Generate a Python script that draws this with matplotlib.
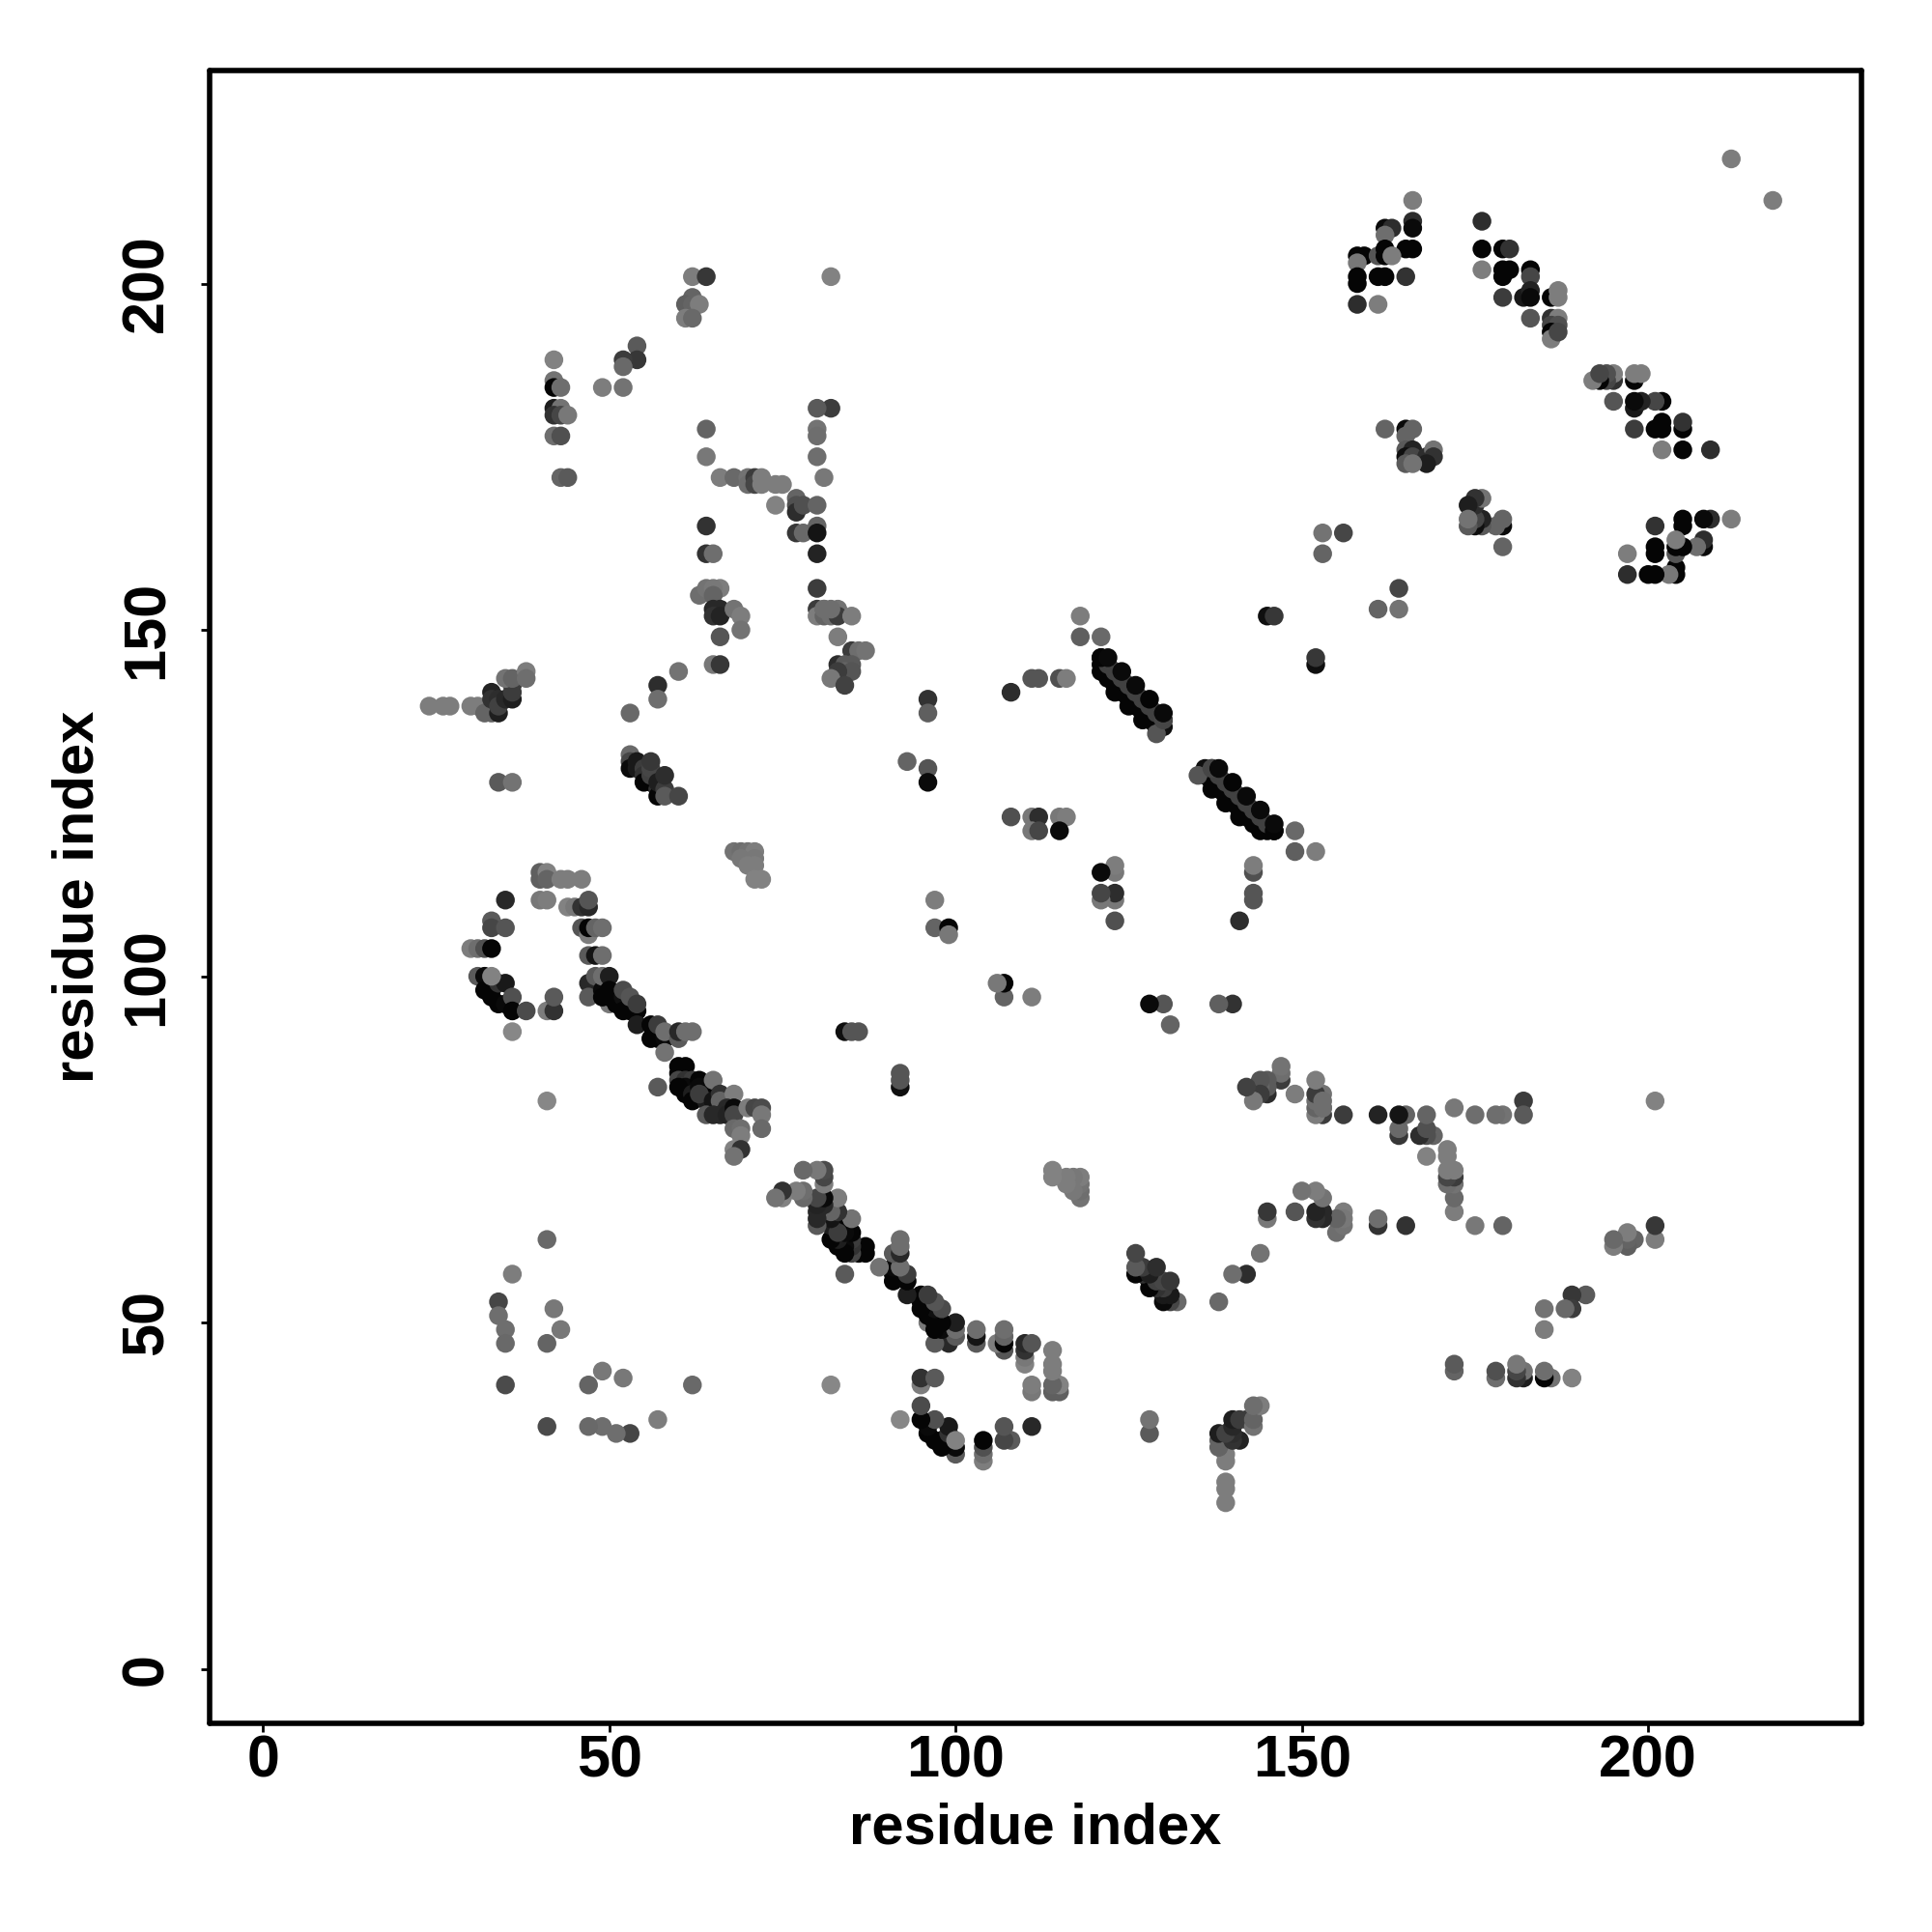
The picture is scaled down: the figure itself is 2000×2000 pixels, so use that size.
import matplotlib
matplotlib.use('Agg')
import matplotlib.pyplot as plt

# contacts with i < j, the map is symmetric so the other half is mirrored below
res_i = [
  35, 33, 33, 35, 30, 31, 32, 33, 31, 32, 32, 33, 33, 34, 35, 34, 35, 33, 36, 36, 38, 36, 41, 42, 42, 41,
  40, 40, 41, 41, 43, 44, 46, 40, 41, 44, 45, 46, 47, 47, 46, 47, 47, 48, 49, 47, 48, 49,
  47, 47, 50, 48, 49, 50, 49, 49, 50, 50, 51, 51, 50, 52, 52, 53, 54, 52, 53, 54, 54, 56, 56, 57, 57, 58, 58, 58, 60, 60, 61, 62,
  60, 61, 60, 60, 61, 62, 61, 60, 61, 62, 63, 63, 62, 64, 64, 63, 65, 65, 66, 66, 68, 67, 64, 65, 66, 67, 68, 68, 70, 71, 72, 72, 72, 68, 69, 69, 68, 69, 68, 57,
  68, 69, 70, 71, 71, 69, 70, 71, 71, 72,
  62, 64, 82, 62, 61, 62, 63, 61, 62, 54, 54, 52, 52, 49, 52,
  42, 42, 42, 43, 42, 43, 42, 43, 44, 42, 43, 43, 44,
  64, 64, 66, 68, 70, 70, 71, 71, 72, 72, 74, 75, 74, 77, 77, 77, 78, 80,
  77, 78, 80, 80, 80, 64, 64, 65, 66, 63, 64, 65, 65,
  65, 66, 65, 66, 68, 69, 69, 66, 65, 66,
  80, 82, 80, 80, 80, 81, 80, 81, 82, 83, 83, 81, 82, 85, 83,
  85, 86, 87, 83, 84, 85, 84, 85, 83, 82, 84, 60, 57, 57, 53,
  53, 53, 53, 54, 54, 55, 55, 55, 56, 56, 56, 56, 57, 57, 57, 58, 58, 58, 60,
  24, 26, 27, 30, 31, 32, 33, 34, 33, 33, 34, 34, 35, 36, 36, 36, 35, 36, 38, 38, 34, 36,
  41, 36, 34, 34, 35, 35, 42, 43, 41, 35,
  96, 96, 108, 111, 112, 115, 116, 93, 96, 96, 108, 111, 112, 115, 116, 111, 112, 115,
  118, 118, 121, 145, 146, 84, 85, 86, 97, 97, 99, 99,
  121, 121, 121, 122, 122, 123, 123, 124, 125, 125, 126, 126, 127, 127, 128, 128, 129, 129, 130, 130, 129,
  122, 123, 124, 125, 126, 127, 128, 129, 130,
  121, 122, 124, 126, 128, 130,
  166, 166, 166, 162, 163, 162, 165, 166, 158, 159, 158, 161, 162, 162, 163, 158, 158, 161, 162, 165, 158, 161,
  176, 176, 179, 180, 176, 179, 180, 179, 183, 183, 179, 182, 183, 183, 186, 187, 187, 183, 186, 187, 186, 187, 186, 186, 187,
  162, 165, 166, 165, 165, 166, 165, 166, 168, 169, 169, 168, 165, 166,
  153, 156, 153, 212,
  80, 80, 81,
]
res_j = [
  111, 108, 107, 107, 104, 104, 104, 104, 100, 100, 98, 98, 97, 96, 96, 99, 99, 100, 97, 95, 95, 92, 95, 95, 97, 82,
  115, 114, 115, 114, 114, 114, 114, 111, 111, 110, 110, 110, 110, 111, 107, 106, 107, 107, 107, 103, 103, 103,
  99, 97, 96, 100, 98, 98, 97, 100, 100, 98, 97, 96, 97, 97, 95, 95, 95, 98, 97, 96, 93, 93, 91, 91, 93, 91, 92, 89, 91, 92, 92, 92,
  87, 87, 86, 85, 85, 85, 84, 84, 83, 83, 85, 84, 82, 83, 82, 83, 85, 82, 83, 82, 83, 81, 80, 80, 80, 80, 81, 80, 81, 81, 81, 80, 78, 78, 78, 77, 75, 75, 74, 84,
  118, 118, 118, 118, 117, 117, 116, 116, 114, 114,
  201, 201, 201, 198, 197, 197, 197, 195, 195, 191, 189, 189, 188, 185, 185,
  189, 186, 185, 185, 182, 182, 181, 181, 181, 178, 178, 172, 172,
  179, 175, 172, 172, 172, 171, 172, 171, 172, 171, 171, 171, 168, 169, 168, 167, 168, 168,
  164, 164, 165, 164, 161, 165, 161, 161, 156, 155, 156, 156, 155,
  153, 153, 152, 152, 153, 152, 150, 149, 145, 145,
  156, 182, 153, 152, 179, 153, 178, 152, 152, 153, 152, 153, 153, 152, 149,
  147, 147, 147, 145, 145, 145, 144, 144, 144, 143, 142, 144, 142, 140, 138,
  132, 131, 130, 130, 131, 130, 129, 128, 128, 129, 130, 131, 127, 126, 128, 127, 126, 129, 126,
  139, 139, 139, 139, 139, 138, 138, 138, 141, 140, 140, 139, 140, 140, 141, 142, 143, 143, 144, 143, 128, 128,
  62, 57, 53, 51, 49, 47, 52, 49, 47, 41,
  140, 138, 141, 143, 143, 143, 143, 131, 130, 128, 123, 123, 123, 123, 123, 121, 121, 121,
  152, 149, 149, 152, 152, 92, 92, 92, 111, 107, 107, 106,
  146, 145, 144, 144, 143, 142, 141, 141, 140, 139, 140, 139, 138, 137, 138, 137, 137, 136, 137, 136, 135,
  145, 144, 143, 142, 141, 140, 139, 138, 137,
  146, 146, 144, 142, 140, 138,
  212, 209, 208, 208, 208, 207, 205, 205, 204, 204, 203, 204, 205, 204, 204, 201, 200, 201, 201, 201, 197, 197,
  209, 205, 205, 205, 202, 202, 202, 201, 202, 201, 198, 198, 199, 198, 198, 199, 198, 195, 195, 195, 194, 194, 193, 192, 193,
  179, 179, 179, 178, 176, 176, 175, 175, 175, 176, 175, 174, 174, 174,
  164, 164, 161, 218,
  182, 175, 172,
]
shade = [
  40, 90, 70, 85, 125, 110, 80, 5, 90, 10, 5, 5, 5, 5, 10, 50, 25, 130, 80, 5, 75, 135, 125, 50, 90, 135,
  95, 95, 130, 100, 125, 125, 125, 120, 125, 130, 120, 50, 40, 85, 85, 125, 5, 100, 110, 90, 20, 110,
  40, 90, 120, 90, 10, 5, 5, 110, 30, 5, 20, 5, 5, 15, 5, 5, 5, 75, 85, 60, 30, 5, 5, 5, 60, 10, 110, 115, 90, 40, 110, 110,
  5, 5, 5, 70, 50, 60, 10, 5, 5, 30, 5, 10, 5, 5, 30, 60, 115, 20, 50, 100, 125, 40, 90, 40, 40, 35, 10, 70, 125, 70, 75, 120, 105, 105, 110, 125, 130, 50, 115, 90,
  115, 110, 115, 125, 120, 120, 125, 125, 130, 130,
  125, 55, 130, 100, 95, 100, 125, 125, 105, 90, 55, 60, 105, 125, 115,
  130, 115, 5, 110, 30, 115, 50, 70, 120, 110, 80, 100, 90,
  100, 120, 125, 105, 115, 110, 60, 70, 125, 125, 125, 125, 130, 100, 80, 45, 80, 100,
  55, 105, 100, 20, 35, 50, 50, 110, 125, 110, 115, 120, 100,
  40, 40, 50, 35, 115, 125, 115, 85, 120, 55,
  60, 60, 60, 125, 115, 110, 110, 100, 110, 115, 60, 110, 110, 125, 125,
  60, 110, 115, 45, 90, 90, 100, 85, 60, 120, 65, 115, 45, 110, 105,
  105, 70, 10, 25, 25, 60, 50, 5, 5, 65, 70, 55, 50, 5, 30, 60, 90, 45, 70,
  125, 125, 125, 125, 125, 100, 100, 30, 35, 50, 45, 65, 40, 30, 60, 60, 115, 100, 125, 110, 90, 115,
  105, 125, 70, 110, 110, 105, 120, 120, 100, 75,
  50, 95, 45, 85, 85, 80, 125, 100, 85, 10, 80, 120, 45, 120, 125, 120, 70, 10,
  125, 95, 105, 15, 55, 15, 85, 85, 125, 100, 5, 120,
  5, 5, 5, 5, 5, 5, 5, 5, 5, 5, 5, 5, 5, 5, 5, 5, 5, 5, 15, 15, 85,
  65, 65, 65, 65, 65, 65, 65, 65, 70,
  5, 10, 10, 10, 5, 10,
  125, 45, 10, 10, 45, 110, 5, 5, 5, 5, 120, 85, 5, 5, 125, 5, 5, 5, 5, 50, 45, 125,
  45, 5, 5, 50, 125, 5, 5, 5, 5, 70, 60, 25, 35, 10, 5, 125, 125, 85, 50, 125, 70, 80, 5, 125, 70,
  100, 10, 100, 100, 90, 35, 15, 70, 45, 115, 50, 30, 90, 115,
  115, 70, 100, 125,
  90, 110, 120,
]
ticks = [0, 50, 100, 150, 200]

font = {'family': 'Liberation Sans', 'weight': 'bold'}

fig = plt.figure(figsize=(10, 10), dpi=200)
ax = fig.add_axes([216.7/2000, 1-1784/2000, (1927-216.7)/2000, (1784-72.7)/2000])

# both triangles of the map
xs = res_i + res_j
ys = res_j + res_i
cs = shade + shade
ax.scatter(xs, ys, c=cs, cmap='gray', vmin=0, vmax=255, s=49, linewidths=0)

ax.set_xlim(-7.75, 230.8)
ax.set_ylim(-7.85, 230.8)
ax.set_xticks(ticks)
ax.set_yticks(ticks)
ax.set_xticklabels(ticks, fontsize=22, **font)
ax.set_yticklabels(ticks, fontsize=22, rotation=90, va='center', **font)
ax.tick_params(axis='x', length=3.1, width=1.0, pad=1)
ax.tick_params(axis='y', length=3.1, width=1.0, pad=9.6)
for s in ax.spines.values():
  s.set_linewidth(2.0)
  s.set_capstyle('round')
ax.set_xlabel('residue index', fontsize=21.5, **font)
ax.set_ylabel('residue index', fontsize=21.5, **font)
ax.xaxis.set_label_coords(0.5, -0.0475)
ax.yaxis.set_label_coords(-0.0633, 0.5)

fig.savefig('out.png', dpi=200)
